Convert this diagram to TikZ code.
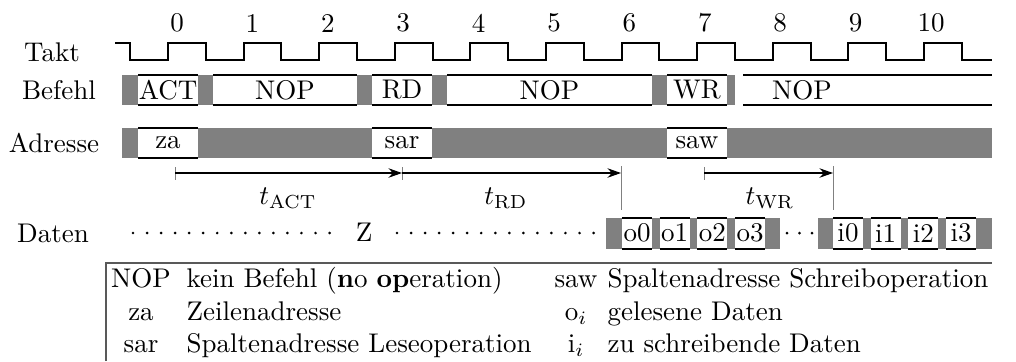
\documentclass[tikz,border=0pt]{standalone}
\usetikzlibrary{arrows.meta}
\definecolor{bg}{gray}{0.5}
\definecolor{legline}{gray}{0.35}
\begin{document}
\begin{tikzpicture}[x=0.37037pt,y=-0.37037pt,
  clk/.style={line width=0.75pt,line join=miter},
  edge/.style={line width=0.75pt},
  graybar/.style={fill=bg},
  lbl/.style={inner sep=0pt,anchor=center},
  txt/.style={inner sep=0pt},
  tick/.style={draw=gray,line width=0.3pt},
  dim/.style={line width=0.4pt,-{Stealth[length=5pt,width=3.5pt]}},
  dotline/.style={line width=1.1pt,line cap=round,dash pattern=on 0pt off 5.2pt}]
\useasboundingbox (0,0) rectangle (1016,361);

% row labels
\node[lbl] (lTakt) at (52,52) {Takt};
\node[lbl] (lBef) at (59,90) {Befehl};
\node[lbl] (lAdr) at (54,143) {Adresse};
\node[lbl] (lDat) at (53,233) {Daten};

% clock numbers
\foreach \k in {0,...,10}{
  \node[lbl] (n\k) at ({177+75.4*\k},23) {\k};
}
% clock
\draw[clk] (115,43) -| (130.2,60)
  \foreach \k in {0,...,10}{ -| ({168+75.6*\k},43) -| ({205.8+75.6*\k},60)}
  -- (992,60);

% Befehl row
\fill[graybar] (122,75) rectangle (735,105);
\foreach \a/\b/\t/\n in {138/198/ACT/bACT,213/357/NOP/bNOPa,372/432/RD/bRD,447/652/NOP/bNOPb,667/727/WR/bWR}{
  \fill[white] (\a,75) rectangle (\b,105);
  \draw[edge] (\a,75) -- (\b,75) (\a,105) -- (\b,105);
  \node[txt] (\n) at ({(\a+\b)/2},90) {\t};
}
\draw[edge] (743,75) -- (992,75) (743,105) -- (992,105);
\node[txt] (bNOPc) at (802,90) {NOP};

% Adresse row
\fill[graybar] (122,128) rectangle (992,158);
\foreach \a/\b/\t/\n in {138/198/za/aza,372/432/sar/asar,667/727/saw/asaw}{
  \fill[white] (\a,128) rectangle (\b,158);
  \draw[edge] (\a,128) -- (\b,128) (\a,158) -- (\b,158);
  \node[txt] (\n) at ({(\a+\b)/2},143) {\t};
}

% timing arrows
\coordinate (p0) at (175,173);
\coordinate (p1) at (402,173);
\coordinate (p2) at (621,173);
\coordinate (p3) at (704,173);
\coordinate (p4) at (833,173);
\draw[tick] (175,167) -- (175,180);
\draw[tick] (402,167) -- (402,180);
\draw[tick] (621,166) -- (621,210);
\draw[tick] (704,167) -- (704,180);
\draw[tick] (833,166) -- (833,210);
\draw[dim] (p0) -- (p1);
\draw[dim] (p1) -- (p2);
\draw[dim] (p3) -- (p4);
\node[lbl] (tACT) at (288,198) {$t_{\mathrm{ACT}}$};
\node[lbl] (tRD) at (506,198) {$t_{\mathrm{RD}}$};
\node[lbl] (tWR) at (770,198) {$t_{\mathrm{WR}}$};

% Daten row
\draw[dotline] (133,233) -- (333,233);
\node[lbl] (dZ) at (364,232) {Z};
\draw[dotline] (397,233) -- (597,233);
\fill[graybar] (606,218) rectangle (780,249);
\fill[graybar] (818,218) rectangle (992,249);
\foreach \x in {787,799.5,812}{\fill (\x,233) circle (1.5);}
\foreach \j in {0,...,3}{
  \pgfmathsetmacro\oa{622+37.7*\j}
  \pgfmathsetmacro\ia{833+37.7*\j}
  \fill[white] (\oa,218) rectangle (\oa+30,249);
  \draw[edge] (\oa,218) -- (\oa+30,218) (\oa,249) -- (\oa+30,249);
  \node[txt] (o\j) at (\oa+15,233) {o\j};
  \fill[white] (\ia,218) rectangle (\ia+30,249);
  \draw[edge] (\ia,218) -- (\ia+30,218) (\ia,249) -- (\ia+30,249);
  \node[txt] (i\j) at (\ia+15,233) {i\j};
}

% legend
\draw[draw=legline,line width=0.7pt] (106,361) -- (106,263) -- (992,263);
\node[txt,anchor=base] (k1) at (141,287) {NOP};
\node[txt,anchor=base] (k2) at (141,320) {za};
\node[txt,anchor=base] (k3) at (141,352) {sar};
\node[txt,anchor=base west] (d1) at (186,287) {kein Befehl (\textbf{n}o \textbf{op}eration)};
\node[txt,anchor=base west] (d2) at (186,320) {Zeilenadresse};
\node[txt,anchor=base west] (d3) at (186,352) {Spaltenadresse Leseoperation};
\node[txt,anchor=base] (k4) at (576,287) {saw};
\node[txt,anchor=base] (k5) at (576,320) {o$_i$};
\node[txt,anchor=base] (k6) at (576,352) {i$_i$};
\node[txt,anchor=base west] (d4) at (607,287) {Spaltenadresse Schreiboperation};
\node[txt,anchor=base west] (d5) at (607,320) {gelesene Daten};
\node[txt,anchor=base west] (d6) at (607,352) {zu schreibende Daten};
\end{tikzpicture}
\end{document}
